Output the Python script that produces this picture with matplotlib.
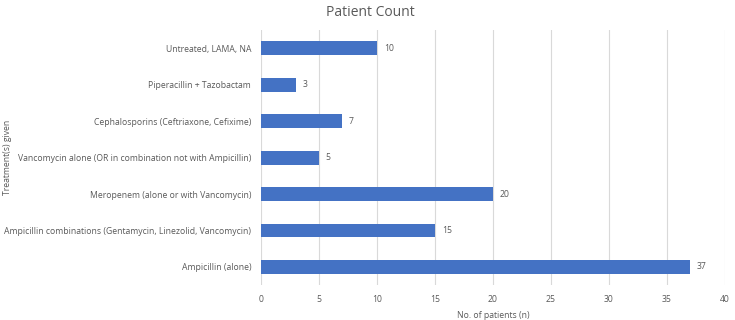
import matplotlib
matplotlib.use("Agg")
import matplotlib.pyplot as plt

categories = [
    "Ampicillin (alone)",
    "Ampicillin combinations (Gentamycin, Linezolid, Vancomycin)",
    "Meropenem (alone or with Vancomycin)",
    "Vancomycin alone (OR in combination not with Ampicillin)",
    "Cephalosporins (Ceftriaxone, Cefixime)",
    "Piperacillin + Tazobactam",
    "Untreated, LAMA, NA",
]
values = [37, 15, 20, 5, 7, 3, 10]
xticks = [0, 5, 10, 15, 20, 25, 30, 35, 40]

plt.rcParams['font.family'] = ['Open Sans', 'DejaVu Sans']
txt = '#595959'
fs = 6.2

fig = plt.figure(figsize=(7.35, 3.2), dpi=100)
ax = fig.add_axes([0.355, 0.109, 0.631, 0.797])
y = list(range(len(categories)))
ax.barh(y, values, height=0.38, color='#4472C4', zorder=3)
for yi, v in zip(y, values):
    ax.text(v + 0.6, yi, str(v), va='center', ha='left', fontsize=fs, color=txt)
ax.set_yticks(y)
ax.set_yticklabels(categories, fontsize=fs, color=txt)
ax.set_xticks(xticks)
ax.set_xticklabels([str(t) for t in xticks], fontsize=fs, color=txt)
ax.set_xlim(0, 40)
ax.set_ylim(-0.5, 6.5)
ax.grid(axis='x', color='#D9D9D9', linewidth=0.8, zorder=0)
ax.tick_params(length=0, pad=7)
for s in ax.spines.values():
    s.set_visible(False)
ax.set_xlabel("No. of patients (n)", fontsize=fs, color=txt, labelpad=5)
ax.set_ylabel("Treatment(s) given", fontsize=fs, color=txt)
ax.yaxis.set_label_coords(-0.537, 0.5)
fig.text(0.504, 0.962, "Patient Count", ha='center', va='center', fontsize=10, color=txt)
fig.savefig("out.png", dpi=100)
